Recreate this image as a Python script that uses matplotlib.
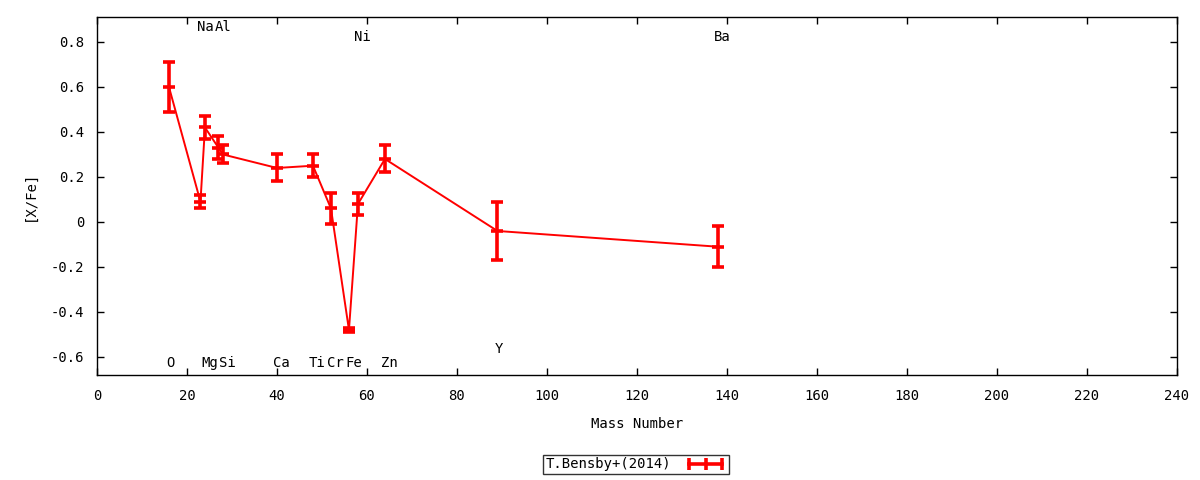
import matplotlib
matplotlib.use("Agg")
import matplotlib.pyplot as plt
from matplotlib.lines import Line2D
from matplotlib.ticker import MultipleLocator, FuncFormatter

plt.rcParams['font.family'] = ['DejaVu Sans Mono']
plt.rcParams['font.size'] = 10

# data
elements = ["O", "Na", "Mg", "Al", "Si", "Ca", "Ti", "Cr", "Fe", "Ni", "Zn", "Y", "Ba"]
mass = [16, 23, 24, 27, 28, 40, 48, 52, 56, 58, 64, 89, 138]
xfe = [0.60, 0.09, 0.42, 0.33, 0.30, 0.24, 0.25, 0.06, -0.48, 0.08, 0.28, -0.04, -0.11]
err = [0.11, 0.03, 0.05, 0.05, 0.04, 0.06, 0.05, 0.07, 0.01, 0.05, 0.06, 0.13, 0.09]
label_y = [-0.627, 0.867, -0.627, 0.867, -0.627, -0.627, -0.627, -0.627, -0.627,
           0.822, -0.627, -0.564, 0.822]

fig = plt.figure(figsize=(12, 4.8), dpi=100)
ax = fig.add_axes([0.0808, 0.2188, 0.9, 0.7458])

ax.errorbar(mass, xfe, yerr=err, color="red", lw=1.4, elinewidth=2.6,
            capsize=4.5, capthick=2.6, marker="_", ms=9, mew=2.6)

for name, m, ly in zip(elements, mass, label_y):
    off = 1.5 if len(name) == 1 else 4.5
    ax.annotate(name, (m, ly), xytext=(off, 0), textcoords="offset pixels",
                ha="center", va="center")

ax.set_xlim(0, 240)
ax.set_ylim(-0.68, 0.911)
ax.xaxis.set_major_locator(MultipleLocator(20))
ax.yaxis.set_major_locator(MultipleLocator(0.2))
ax.yaxis.set_major_formatter(FuncFormatter(lambda v, p: "%g" % round(v, 2)))
ax.tick_params(direction="in", top=True, right=True, length=5, width=1)
ax.tick_params(axis="x", pad=10)
ax.tick_params(axis="y", pad=9)
for s in ax.spines.values():
    s.set_linewidth(1)

ax.set_xlabel("Mass Number", labelpad=10)
ax.set_ylabel("[X/Fe]", labelpad=10)

handle = Line2D([], [], color="red", lw=2.6, marker="|", ms=9, mew=2.6)
leg = fig.legend([handle], ["T.Bensby+(2014)"], loc="center",
                 bbox_to_anchor=(0.53, 0.0323), markerfirst=False, numpoints=3,
                 frameon=True, fancybox=False, edgecolor="black", handlelength=3.0,
                 borderpad=0.2, handletextpad=1.0, borderaxespad=0)
leg.get_frame().set_linewidth(1)

fig.savefig("out.png", dpi=100)
